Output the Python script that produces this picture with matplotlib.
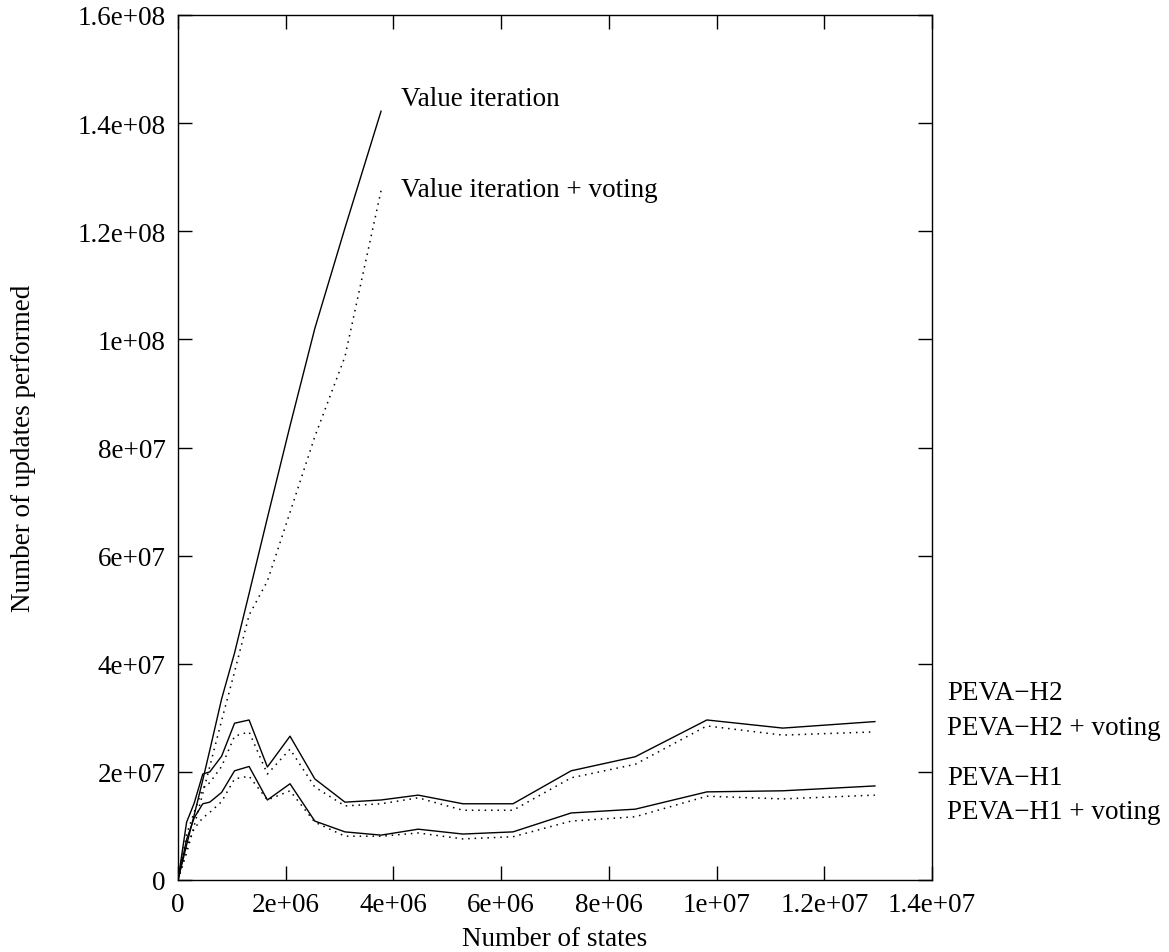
import matplotlib
matplotlib.use('Agg')
import matplotlib.pyplot as plt

plt.rcParams['font.family'] = ['Liberation Serif', 'DejaVu Serif']

# number of states (x) shared by all runs
states = [0, 0.16e6, 0.30e6, 0.46e6, 0.59e6, 0.81e6, 1.05e6, 1.32e6, 1.66e6, 2.08e6,
          2.54e6, 3.10e6, 3.77e6, 4.46e6, 5.29e6, 6.22e6, 7.30e6, 8.49e6, 9.82e6,
          11.23e6, 12.94e6]

# updates performed (millions)
vi = [0, 6.5, 12, 18.5, 24, 33.5, 42, 53, 67, 84, 102, 120.6, 142.2]
vi_vote = [0, 5, 10, 16, 21, 29.5, 38.5, 49, 55.3, 68, 82, 96.8, 127.5]
h2 = [0, 10.7, 14.2, 19.6, 20.0, 22.9, 29.0, 29.6, 20.9, 26.6, 18.7, 14.4, 14.8,
      15.7, 14.1, 14.1, 20.2, 22.8, 29.6, 28.1, 29.3]
h2_vote = [0, 8.5, 12.5, 17.0, 18.0, 21.0, 26.6, 27.4, 19.6, 24.2, 17.2, 13.7, 14.1,
           15.2, 12.9, 12.9, 18.9, 21.4, 28.5, 26.8, 27.4]
h1 = [0, 7.5, 11.5, 14.1, 14.4, 16.2, 20.2, 21.0, 14.8, 17.8, 10.9, 8.9, 8.3,
      9.4, 8.5, 8.9, 12.4, 13.1, 16.3, 16.5, 17.4]
h1_vote = [0, 6, 9.5, 11.5, 12.5, 14.5, 18.7, 19.2, 14.8, 16.5, 10.7, 8.1, 8.1,
           8.7, 7.6, 8.0, 10.9, 11.7, 15.5, 15.0, 15.7]

xticks = [0, 2e6, 4e6, 6e6, 8e6, 1e7, 1.2e7, 1.4e7]
xticklabels = ['0', '2e+06', '4e+06', '6e+06', '8e+06', '1e+07', '1.2e+07', '1.4e+07']
yticks = [0, 2e7, 4e7, 6e7, 8e7, 1e8, 1.2e8, 1.4e8, 1.6e8]
yticklabels = ['0', '2e+07', '4e+07', '6e+07', '8e+07', '1e+08', '1.2e+08', '1.4e+08', '1.6e+08']

fig = plt.figure(figsize=(11.69, 9.53), dpi=100)
ax = fig.add_axes([178 / 1169, 1 - 881 / 953, (932 - 178) / 1169, (881 - 16) / 953])

n = len(vi)
solid = dict(color='black', lw=1.0, ls='-')
dotted = dict(color='black', lw=1.1, ls=(0, (1, 3.2)))
ax.plot(states[:n], [v * 1e6 for v in vi], **solid)
ax.plot(states[:n], [v * 1e6 for v in vi_vote], **dotted)
ax.plot(states, [v * 1e6 for v in h2], **solid)
ax.plot(states, [v * 1e6 for v in h2_vote], **dotted)
ax.plot(states, [v * 1e6 for v in h1], **solid)
ax.plot(states, [v * 1e6 for v in h1_vote], **dotted)

fs = 19.5
ax.set_xlim(0, 1.4e7)
ax.set_ylim(0, 1.6e8)
ax.set_xticks(xticks)
ax.set_xticklabels(xticklabels)
ax.set_yticks(yticks)
ax.set_yticklabels(yticklabels)
ax.tick_params(direction='in', length=10, width=1, labelsize=fs, pad=9,
               top=True, right=True)
for s in ax.spines.values():
    s.set_linewidth(1)

ax.text(4.14e6, 1.445e8, 'Value iteration', fontsize=fs, va='center', ha='left')
ax.text(4.14e6, 1.278e8, 'Value iteration + voting', fontsize=fs, va='center', ha='left')
ax.text(1.428e7, 3.46e7, 'PEVA\u2212H2', fontsize=fs, va='center', ha='left', clip_on=False)
ax.text(1.428e7, 2.83e7, 'PEVA\u2212H2 + voting', fontsize=fs, va='center', ha='left', clip_on=False)
ax.text(1.428e7, 1.89e7, 'PEVA\u2212H1', fontsize=fs, va='center', ha='left', clip_on=False)
ax.text(1.428e7, 1.26e7, 'PEVA\u2212H1 + voting', fontsize=fs, va='center', ha='left', clip_on=False)

ax.set_xlabel('Number of states', fontsize=fs, labelpad=6)
ax.set_ylabel('Number of updates performed', fontsize=fs, labelpad=30)

fig.savefig('out.png', dpi=100)
